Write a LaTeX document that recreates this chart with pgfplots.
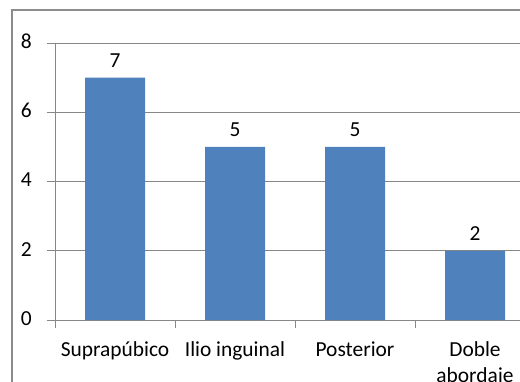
\documentclass[border=0pt]{standalone}
\usepackage{pgfplots}
\pgfplotsset{compat=1.18}
\usepackage{fontspec}
\setmainfont{Carlito}
\definecolor{barblue}{HTML}{4F81BD}
\definecolor{gridgray}{HTML}{878787}
\definecolor{framegray}{HTML}{8C8C8C}

\begin{document}
\begin{tikzpicture}[x=1bp,y=1bp]
\useasboundingbox (0,0) rectangle (520,381);
\fill[white] (0,0) rectangle (520,381);
\clip (0,0) rectangle (520,381);
% chart frame
\draw[line width=2bp, framegray] (12,-20) -- (12,371) -- (560,371);
\begin{axis}[
  at={(55bp,61bp)}, anchor=south west,
  scale only axis, width=480bp, height=277bp,
  xmin=-0.5, xmax=3.5, ymin=0, ymax=8,
  ytick={0,2,4,6,8},
  xtick={-0.5,0.5,1.5,2.5,3.5},
  x tick label as interval,
  xticklabels={Suprapúbico, Ilio inguinal, Posterior, Doble\\abordaje},
  xtick pos=bottom, ytick pos=left,
  ymajorgrids,
  grid style={gridgray, line width=0.8bp},
  axis line style={gridgray, line width=0.8bp},
  tick style={draw=gridgray, line width=0.8bp},
  tick align=outside,
  major tick length=8bp,
  ybar, bar width=60bp,
  /pgf/number format/assume math mode=true,
  typeset ticklabels with strut,
  tick label style={font=\fontsize{21.5}{27}\selectfont, text=black},
  xticklabel style={anchor=north, align=center, inner sep=0pt, yshift=-9bp},
  yticklabel style={anchor=east, inner sep=0pt, xshift=-15bp},
  nodes near coords,
  nodes near coords style={font=\fontsize{21.5}{27}\selectfont, text=black, anchor=south, inner sep=0pt, yshift=10bp},
]
\addplot[fill=barblue, draw=none] coordinates {(0,7) (1,5) (2,5) (3,2)};
\end{axis}
\end{tikzpicture}
\end{document}
